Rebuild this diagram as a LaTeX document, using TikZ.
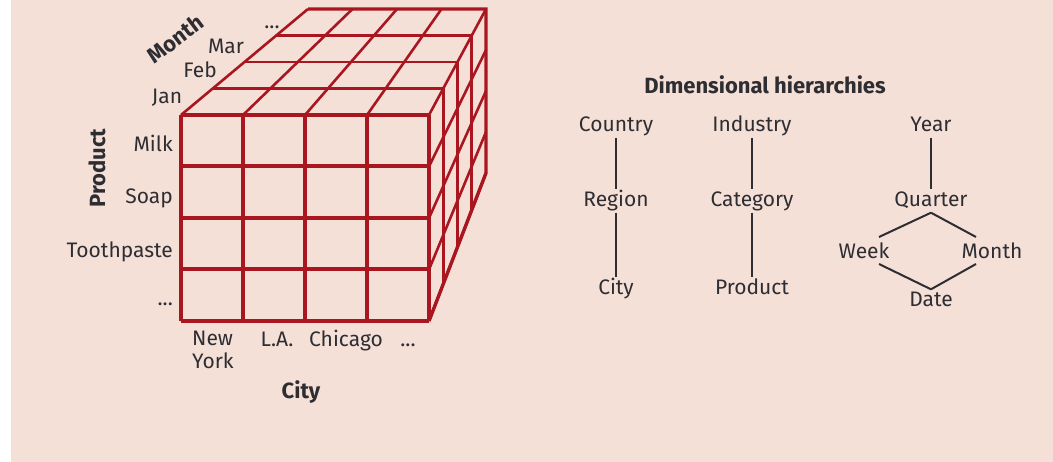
\documentclass[tikz,border=0pt]{standalone}
\usepackage{fontspec}
\setmainfont{Fira Sans}
\usepackage{tikz}
\usetikzlibrary{positioning, calc}

\definecolor{cubered}{RGB}{170,22,32}
\definecolor{bgpink}{RGB}{245,224,216}
\definecolor{textgray}{RGB}{45,45,50}

\tikzset{
    lbl/.style={text=textgray, inner sep=2pt, text height=15pt, text depth=4pt,
        font=\fontsize{21}{24}\selectfont},
    axislbl/.style={text=textgray, inner sep=0pt, font=\fontsize{22}{25}\selectfont\bfseries},
    face/.style={draw=cubered, line width=2.6pt},
    frontface/.style={draw=cubered, line width=4pt},
    link/.style={draw=textgray, line width=2pt},
}

\begin{document}
\begin{tikzpicture}[x=1pt, y=-1pt]
        \useasboundingbox (0,0) rectangle (1053,462);
        \fill[white] (0,0) rectangle (1053,462);
        \fill[bgpink] (11,0) rectangle (1053,462);

        % cube corners
        \coordinate (ftl) at (181,115);
        \coordinate (ftr) at (429,115);
        \coordinate (fbl) at (181,321);
        \coordinate (fbr) at (429,321);
        \coordinate (btl) at (308,9);
        \coordinate (btr) at (486,9);
        \coordinate (bbr) at (486,173);

        % top and side faces
        \foreach \k in {1,...,4} {
            \draw[face] ($(ftl)!\k/4!(btl)$) -- ($(ftr)!\k/4!(btr)$);
            \draw[face] ($(ftr)!\k/4!(btr)$) -- ($(fbr)!\k/4!(bbr)$);
            \draw[face] ($(ftr)!\k/4!(fbr)$) -- ($(btr)!\k/4!(bbr)$);
        }
        \foreach \j in {0,...,4}
            \draw[face] ($(ftl)!\j/4!(ftr)$) -- ($(btl)!\j/4!(btr)$);
        \draw[face, line width=3.4pt] (btl) -- (btr) -- (bbr) -- (fbr);

        % front face
        \foreach \i in {0,...,4} {
            \draw[frontface] ($(ftl)!\i/4!(fbl)$) -- ($(ftr)!\i/4!(fbr)$);
            \draw[frontface] ($(ftl)!\i/4!(ftr)$) -- ($(fbl)!\i/4!(fbr)$);
        }

        % month axis
        \node[lbl] (mdots) at (272,23) {...};
        \node[lbl] (mar) at (226,48) {Mar};
        \node[lbl] (feb) at (200,72) {Feb};
        \node[lbl] (jan) at (167,98) {Jan};
        \node[axislbl, rotate=37] (monthlbl) at (175,39) {Month};

        % product axis
        \node[lbl, anchor=east] (milk) at (175,146) {Milk};
        \node[lbl, anchor=east] (soap) at (175,198) {Soap};
        \node[lbl, anchor=east] (paste) at (175,252) {Toothpaste};
        \node[lbl, anchor=east] (pdots) at (175,300) {...};
        \node[axislbl, rotate=90] (productlbl) at (97,168) {Product};

        % city axis
        \node[lbl, align=left, anchor=north west, text height=, text depth=] (ny) at (190,329) {New\\[-1pt]York};
        \node[lbl, anchor=north] (la) at (277,329) {L.A.};
        \node[lbl, anchor=north] (chicago) at (346,329) {Chicago};
        \node[lbl, anchor=north] (cdots) at (408,329) {...};
        \node[axislbl] (citylbl) at (301,392) {City};

        % hierarchies
        \node[axislbl] (title) at (765,85) {Dimensional hierarchies};

        \node[lbl] (country) at (616,126) {Country};
        \node[lbl] (region) at (616,201) {Region};
        \node[lbl] (city) at (616,289) {City};

        \node[lbl] (industry) at (752,126) {Industry};
        \node[lbl] (category) at (752,201) {Category};
        \node[lbl] (product) at (752,289) {Product};

        \node[lbl] (year) at (931,126) {Year};
        \node[lbl] (quarter) at (931,201) {Quarter};
        \node[lbl] (week) at (864,253) {Week};
        \node[lbl] (month) at (992,253) {Month};
        \node[lbl] (date) at (931,301) {Date};

        \draw[link] (country) -- (region);
        \draw[link] (region) -- (city);
        \draw[link] (industry) -- (category);
        \draw[link] (category) -- (product);
        \draw[link] (year) -- (quarter);
        \draw[link] (quarter.south) -- ($(week)+(15,-16)$);
        \draw[link] (quarter.south) -- ($(month)+(-16,-16)$);
        \draw[link] ($(week)+(15,11)$) -- (date.north);
        \draw[link] ($(month)+(-16,11)$) -- (date.north);
    \end{tikzpicture}
\end{document}
